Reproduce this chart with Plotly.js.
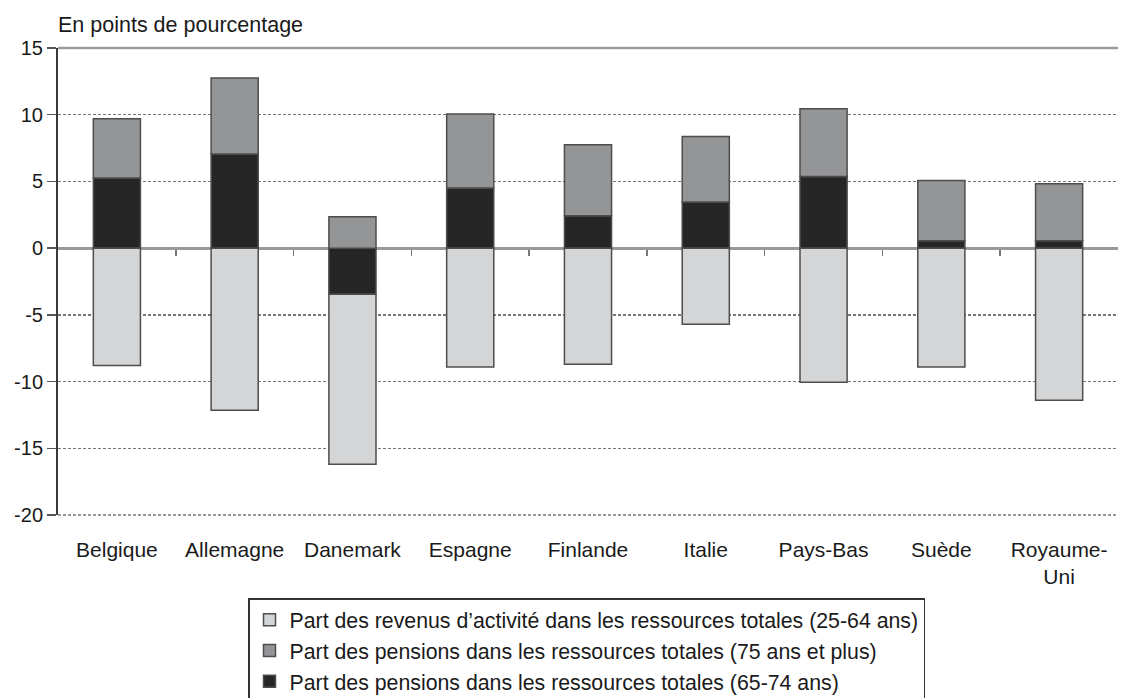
<!DOCTYPE html>
<html>
<head>
<meta charset="utf-8">
<script src="https://cdn.plot.ly/plotly-3.0.1.min.js"></script>
<style>html,body{margin:0;padding:0;background:#fff;}#chart{width:1122px;height:698px;}</style>
</head>
<body>
<div id="chart"></div>
<script>
const categories = ["Belgique", "Allemagne", "Danemark", "Espagne", "Finlande", "Italie", "Pays-Bas", "Suède", "Royaume-<br>Uni"];
const revenusActivite2564 = [-8.8, -12.15, -12.75, -8.9, -8.7, -5.7, -10.05, -8.9, -11.4];
const pensions75plus = [4.45, 5.7, 2.35, 5.55, 5.33, 4.92, 5.08, 4.52, 4.27];
const pensions6574 = [5.25, 7.05, -3.45, 4.5, 2.42, 3.45, 5.37, 0.55, 0.55];
const yTicks = [-20, -15, -10, -5, 0, 5, 10, 15];
const boundaryTicks = [0.5, 1.5, 2.5, 3.5, 4.5, 5.5, 6.5, 7.5];

const FONT = "Liberation Sans, Arial, Helvetica, sans-serif";
const outline = {color: "#4d4d4d", width: 1.5};

const traces = [
  {type: "bar", name: "Part des pensions dans les ressources totales (65-74 ans)", x: categories, y: pensions6574,
   marker: {color: "#262626", line: outline}, legendrank: 3},
  {type: "bar", name: "Part des revenus d’activité dans les ressources totales (25-64 ans)", x: categories, y: revenusActivite2564,
   marker: {color: "#d4d5d7", line: outline}, legendrank: 1},
  {type: "bar", name: "Part des pensions dans les ressources totales (75 ans et plus)", x: categories, y: pensions75plus,
   marker: {color: "#949597", line: outline}, legendrank: 2}
];

const layout = {
  width: 1122, height: 698,
  margin: {l: 58, r: 4, t: 48, b: 183, autoexpand: false},
  paper_bgcolor: "#fff", plot_bgcolor: "#fff",
  font: {family: FONT, size: 21, color: "#1a1a1a"},
  barmode: "relative",
  bargap: 0.6,
  showlegend: true,
  title: {text: "En points de pourcentage", x: 0, xref: "paper", xanchor: "left", y: 1 - 24/698, yanchor: "middle",
          font: {family: FONT, size: 21.5, color: "#1a1a1a"}},
  xaxis: {type: "category", range: [-0.5, 8.5], showline: false, ticks: "", showgrid: false, zeroline: false,
          ticklabelstandoff: 20, automargin: false,
          tickfont: {family: FONT, size: 21, color: "#1a1a1a"}, fixedrange: true},
  xaxis2: {overlaying: "x", anchor: "free", position: 20/35, type: "linear", range: [-0.5, 8.5],
           tickvals: boundaryTicks, showticklabels: false, ticks: "outside", ticklen: 6, tickwidth: 1.5,
           tickcolor: "#777", showline: true, linecolor: "#9a9a9a", linewidth: 2.5, showgrid: false, zeroline: false,
           layer: "below traces"},
  yaxis: {range: [-20, 15], tickvals: yTicks, ticktext: yTicks.map(String), ticks: "outside", ticklen: 9,
          tickwidth: 1.5, tickcolor: "#555", showline: true, linecolor: "#3a3a3a", linewidth: 2, automargin: false,
          showgrid: true, gridcolor: "#777", gridwidth: 1.5, griddash: "3px,2px", zeroline: false,
          tickfont: {family: FONT, size: 20, color: "#1a1a1a"}, fixedrange: true},
  legend: {x: (248-58)/1060, y: (515-598)/467, xanchor: "left", yanchor: "top",
           bordercolor: "#333", borderwidth: 1.5, bgcolor: "#fff",
           font: {family: FONT, size: 21.3, color: "#1a1a1a"}, traceorder: "normal"},
  shapes: [
    {type: "line", xref: "paper", yref: "paper", x0: 0, x1: 1, y0: 1, y1: 1, line: {color: "#9a9a9a", width: 2.5}},
    {type: "line", xref: "paper", yref: "paper", x0: 0, x1: 1, y0: 0, y1: 0, line: {color: "#777", width: 1.5, dash: "3px,2px"}}
  ]
};

// invisible trace so that the zero-line axis (xaxis2) is drawn
traces.push({type: "scatter", x: [0], y: [0], xaxis: "x2", yaxis: "y", mode: "markers",
             marker: {opacity: 0}, showlegend: false, hoverinfo: "skip"});

Plotly.newPlot("chart", traces, layout, {displayModeBar: false, staticPlot: true});
</script>
</body>
</html>
